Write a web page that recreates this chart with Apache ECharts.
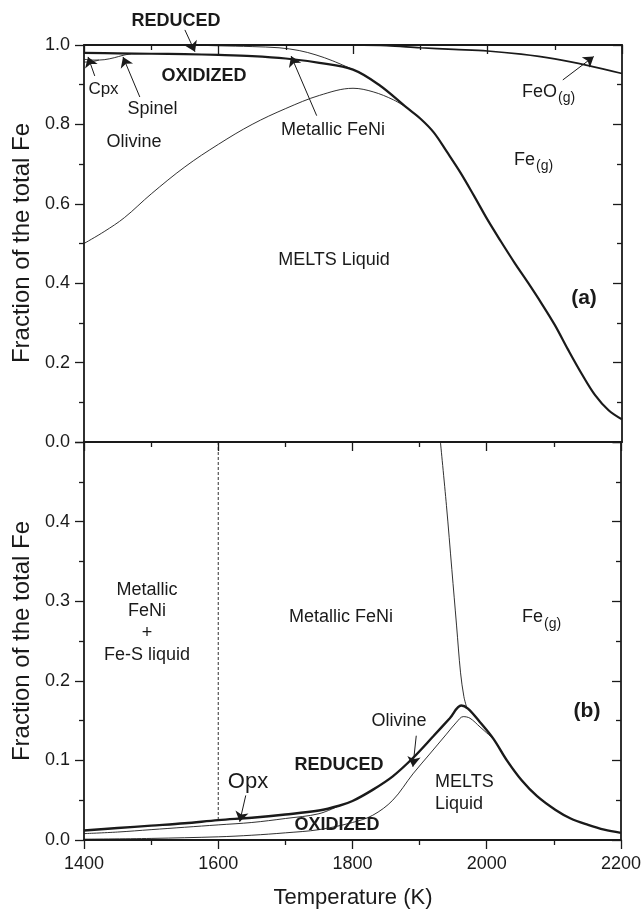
<!DOCTYPE html>
<html>
<head>
<meta charset="utf-8">
<script src="https://cdn.jsdelivr.net/npm/echarts@6/dist/echarts.min.js"></script>
<style>
  html, body { margin: 0; padding: 0; background: #fff; }
  #chart { width: 644px; height: 910px; }
</style>
</head>
<body>
<div id="chart"></div>
<script>
// --- data: temperature (K), fraction of the total Fe ---
// panel (a)
var aOxidized = [[1400,0.980],[1450,0.979],[1500,0.978],[1550,0.977],[1600,0.975],[1650,0.972],[1700,0.966],[1750,0.955],[1800,0.938],[1840,0.898],[1880,0.842],[1900,0.815],[1920,0.780],[1940,0.730],[1960,0.678],[1980,0.620],[2000,0.560],[2020,0.505],[2040,0.452],[2060,0.402],[2080,0.350],[2100,0.295],[2120,0.232],[2140,0.172],[2160,0.118],[2180,0.080],[2200,0.057]];
var aReduced = [[1560,1.000],[1600,0.998],[1650,0.996],[1690,0.993],[1720,0.986],[1745,0.975],[1770,0.960],[1800,0.938]];
var aFeO = [[1800,1.000],[1850,0.998],[1900,0.993],[1950,0.989],[2000,0.985],[2050,0.977],[2100,0.965],[2150,0.948],[2200,0.928]];
var aSpinel = [[1400,0.964],[1415,0.962],[1430,0.963],[1445,0.968],[1458,0.974],[1470,0.978]];
var aCpx = [[1400,0.957],[1412,0.958],[1422,0.962]];
var aMelts = [[1400,0.500],[1430,0.530],[1460,0.565],[1500,0.625],[1550,0.693],[1600,0.750],[1650,0.800],[1700,0.840],[1750,0.873],[1800,0.891],[1830,0.882],[1860,0.862],[1880,0.842]];

// panel (b)
var bReduced = [[1400,0.012],[1450,0.015],[1500,0.018],[1550,0.021],[1600,0.025],[1650,0.028],[1700,0.032],[1750,0.037],[1780,0.043],[1800,0.049],[1830,0.063],[1860,0.080],[1890,0.103],[1920,0.130],[1945,0.153],[1962,0.169],[1972,0.165],[1990,0.148],[2010,0.127],[2030,0.100],[2052,0.075],[2075,0.055],[2102,0.038],[2125,0.027],[2151,0.019],[2175,0.013],[2200,0.009]];
var bOpx = [[1400,0.008],[1450,0.010],[1500,0.013],[1550,0.016],[1600,0.019],[1650,0.022],[1700,0.027],[1750,0.033],[1780,0.043]];
var bMelts = [[1400,0.001],[1500,0.002],[1600,0.004],[1650,0.006],[1700,0.009],[1750,0.013],[1800,0.022],[1830,0.031],[1860,0.050],[1890,0.083],[1915,0.108],[1940,0.133],[1955,0.148],[1965,0.155],[1975,0.153],[1990,0.142],[2010,0.127]];
var bGas = [[1931,0.500],[1940,0.420],[1948,0.340],[1955,0.270],[1961,0.210],[1966,0.180],[1970,0.167]];
var bSulfide = [[1600,0.500],[1600,0.025]];

// annotation arrows [from, to]
var arrowsA = [
  [[1550,1.038],[1565,0.983]],   // REDUCED
  [[1416,0.922],[1406,0.970]],   // Cpx
  [[1483,0.869],[1458,0.970]],   // Spinel
  [[1746,0.822],[1708,0.972]],   // Metallic FeNi
  [[2112,0.912],[2158,0.971]]    // FeO(g)
];
var arrowsB = [
  [[1895,0.131],[1890,0.092]],   // Olivine
  [[1641,0.056],[1632,0.023]]    // Opx
];

var ink = '#1a1a1a';
var font = "'Liberation Sans', Arial, sans-serif";

var chart = echarts.init(document.getElementById('chart'), null, { renderer: 'canvas' });

function xAx(grid, pos, opts) {
  return Object.assign({
    type: 'value', gridIndex: grid, position: pos, min: 1400, max: 2200, interval: 200,
    axisLine: { onZero: false, lineStyle: { color: ink, width: 1.8 } },
    axisTick: { show: false }, axisLabel: { show: false }, splitLine: { show: false }
  }, opts);
}
function yAx(grid, pos, max, step, opts) {
  return Object.assign({
    type: 'value', gridIndex: grid, position: pos, min: 0, max: max, interval: step,
    axisLine: { show: true, onZero: false, lineStyle: { color: ink, width: 1.8 } },
    axisTick: { show: true, inside: pos === 'right', length: 9, lineStyle: { color: ink, width: 1.3 } },
    minorTick: { show: true, splitNumber: 2, length: 5, lineStyle: { color: ink, width: 1.3 } },
    axisLabel: { show: false }, splitLine: { show: false }
  }, opts);
}
var tickOn = { show: true, length: 9, lineStyle: { color: ink, width: 1.3 } };
var minorOn = { show: true, splitNumber: 2, length: 5, lineStyle: { color: ink, width: 1.3 } };

function curve(data, w, xi, yi) {
  return { type: 'line', data: data, xAxisIndex: xi, yAxisIndex: yi, showSymbol: false, symbol: 'none',
    smooth: 0.35, lineStyle: { color: ink, width: w }, silent: true, z: 3 };
}
function arrows(list, xi, yi) {
  return { type: 'lines', coordinateSystem: 'cartesian2d', xAxisIndex: xi, yAxisIndex: yi, clip: false,
    symbol: ['none', 'arrow'], symbolSize: 10, silent: true, z: 4,
    lineStyle: { color: ink, width: 1, opacity: 1, curveness: 0 },
    itemStyle: { color: ink },
    data: list.map(function (c) { return { coords: c }; }) };
}

function txt(s, x, y, size, opts) {
  return { type: 'text', x: x, y: y, z: 10, style: Object.assign({
    text: s, fill: ink, fontFamily: font, fontSize: size, align: 'center', verticalAlign: 'middle'
  }, opts || {}) };
}
var bold = { fontWeight: 'bold' };
var left = { align: 'left' };
var yTitleA = txt('Fraction of the total Fe', 22, 243, 24);
var yTitleB = txt('Fraction of the total Fe', 22, 641, 24);
yTitleA.rotation = Math.PI / 2;
yTitleB.rotation = Math.PI / 2;

chart.setOption({
  animation: false,
  backgroundColor: '#fff',
  grid: [
    { left: 84, right: 22, top: 45, height: 397 },
    { left: 84, right: 22, top: 442, height: 398 }
  ],
  xAxis: [
    xAx(0, 'bottom'),
    xAx(0, 'top', { axisTick: Object.assign({ inside: true }, tickOn), minorTick: minorOn }),
    xAx(1, 'top', { axisTick: Object.assign({ inside: true }, tickOn), minorTick: minorOn }),
    xAx(1, 'bottom', {
      axisTick: Object.assign({ inside: false }, tickOn), minorTick: minorOn,
      axisLabel: { show: true, color: ink, fontFamily: font, fontSize: 18, margin: 15,
        formatter: function (v) { return String(v); } }
    })
  ],
  yAxis: [
    yAx(0, 'left', 1, 0.2, { axisLabel: { show: true, color: ink, fontFamily: font, fontSize: 18, margin: 14,
      formatter: function (v) { return v.toFixed(1); } } }),
    yAx(0, 'right', 1, 0.2),
    yAx(1, 'left', 0.5, 0.1, { axisLabel: { show: true, color: ink, fontFamily: font, fontSize: 18, margin: 14,
      formatter: function (v) { return v > 0.45 ? '' : v.toFixed(1); } } }),
    yAx(1, 'right', 0.5, 0.1)
  ],
  series: [
    curve(aMelts, 0.9, 0, 0),
    curve(aReduced, 0.9, 0, 0),
    curve(aSpinel, 0.9, 0, 0),
    curve(aCpx, 0.9, 0, 0),
    curve(aFeO, 1.6, 0, 0),
    curve(aOxidized, 2.2, 0, 0),
    arrows(arrowsA, 0, 0),
    curve(bMelts, 0.9, 3, 2),
    curve(bOpx, 0.9, 3, 2),
    curve(bGas, 0.9, 3, 2),
    Object.assign(curve(bSulfide, 0.9, 3, 2), { smooth: false, lineStyle: { color: ink, width: 0.9, type: [3, 2] } }),
    curve(bReduced, 2.4, 3, 2),
    arrows(arrowsB, 3, 2)
  ],
  graphic: [
    // axis titles
    yTitleA,
    yTitleB,
    txt('Temperature (K)', 353, 898, 22),
    // panel (a)
    txt('REDUCED', 176, 21, 18, bold),
    txt('OXIDIZED', 204, 76, 18, bold),
    txt('Cpx', 103.5, 89, 17),
    txt('Spinel', 152.5, 109, 18),
    txt('Olivine', 134, 142.5, 18),
    txt('Metallic FeNi', 333, 130, 18),
    txt('FeO', 522, 92.5, 18, left),
    txt('(g)', 558, 98, 14, left),
    txt('Fe', 514, 160, 18, left),
    txt('(g)', 536, 166, 14, left),
    txt('MELTS Liquid', 334, 260, 18),
    txt('(a)', 584, 298, 21, bold),
    // panel (b)
    txt('Metallic', 147, 590, 18),
    txt('FeNi', 147, 611.5, 18),
    txt('+', 147, 633, 18),
    txt('Fe-S liquid', 147, 655, 18),
    txt('Metallic FeNi', 341, 617, 18),
    txt('Fe', 522, 617, 18, left),
    txt('(g)', 544, 624, 14, left),
    txt('(b)', 587, 711, 21, bold),
    txt('Olivine', 399, 721, 18),
    txt('MELTS', 435, 782, 18, left),
    txt('Liquid', 435, 804, 18, left),
    txt('REDUCED', 339, 765, 18, bold),
    txt('OXIDIZED', 337, 825, 18, bold),
    txt('Opx', 248, 782, 22)
  ]
});
window.addEventListener('resize', function () { chart.resize(); });
</script>
</body>
</html>
